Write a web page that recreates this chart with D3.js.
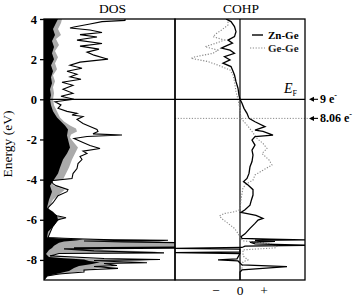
<!DOCTYPE html>
<html>
<head>
<meta charset="utf-8">
<script src="https://cdn.jsdelivr.net/npm/d3@7"></script>
<style>
  body { margin: 0; background: #fff; }
  svg text { font-family: "Liberation Serif", "DejaVu Serif", serif; }
</style>
</head>
<body>
<figure id="chart" style="margin:0"></figure>
<script>
// energy axis ticks
const energyTicks = [4, 2, 0, -2, -4, -6, -8];

// total DOS (black line)
const totalE = [4.0, 3.93, 3.87, 3.75, 3.6, 3.55, 3.45, 3.33, 3.22, 3.1, 2.95, 2.78, 2.65, 2.5, 2.35, 2.2, 2.0, 1.85, 1.7, 1.55, 1.4, 1.25, 1.12, 1.0, 0.85, 0.7, 0.5, 0.3, 0.15, 0.0,
  -0.12, -0.28, -0.45, -0.6, -0.7, -0.78, -0.86, -1.0, -1.2, -1.35, -1.5, -1.6, -1.72, -1.78, -1.85, -1.95, -2.15, -2.3, -2.45, -2.58, -2.7, -2.85, -3.0, -3.2, -3.45, -3.7, -3.95,
  -4.05, -4.2, -4.3, -4.5, -4.6, -4.8, -5.15, -5.4, -5.6, -5.8, -5.9, -6.0, -6.3, -6.65, -6.88,
  -6.92, -6.96, -7.0, -7.02, -7.04, -7.06, -7.1, -7.14, -7.36, -7.39, -7.42, -7.45, -7.55, -7.62, -7.65, -7.68, -7.8, -7.93, -7.98, -8.03, -8.1, -8.14, -8.18, -8.28, -8.33, -8.42, -8.5, -8.6, -8.7, -8.8, -9.0];
const totalDos = [8.1, 8.1, 5.8, 4.6, 3.0, 2.6, 4.6, 5.8, 3.6, 5.3, 3.3, 5.8, 3.6, 5.5, 4.3, 5.0, 6.4, 3.6, 2.6, 3.8, 2.3, 3.3, 2.6, 3.7, 1.8, 2.9, 1.9, 2.9, 1.7, 3.0,
  1.1, 1.7, 1.4, 2.3, 3.3, 2.8, 3.9, 3.3, 3.9, 4.6, 5.3, 5.4, 4.9, 7.8, 4.3, 3.0, 3.9, 4.6, 5.6, 3.9, 4.3, 3.6, 3.8, 3.4, 3.3, 2.9, 2.8,
  0.7, 0.9, 1.2, 2.4, 2.3, 1.4, 0.9, 0.4, 0.3, 1.3, 2.2, 1.4, 0.9, 0.6, 0.4,
  2.0, 4.0, 7.0, 12.4, 11.5, 4.0, 8.0, 13.5, 13.5, 3.0, 13.5, 2.0, 5.0, 10.0, 12.0, 1.5, 0.6, 6.0, 11.6, 5.0, 8.0, 10.3, 6.0, 7.3, 5.0, 7.4, 4.0, 4.0, 1.5, 0.3, 0.0];

// partial DOS (gray fill)
const grayE = [4.0, 3.8, 3.5, 3.2, 3.0, 2.7, 2.4, 2.1, 1.8, 1.5, 1.2, 0.9, 0.6, 0.3, 0.0, -0.3, -0.6, -0.9, -1.1, -1.3, -1.45, -1.6, -1.75, -1.9, -2.1, -2.4, -2.7, -3.0, -3.4, -3.7, -4.0,
  -4.1, -4.3, -4.5, -4.7, -5.0, -5.4, -5.7, -5.9, -6.1, -6.4, -6.8, -6.88,
  -6.93, -6.97, -7.0, -7.03, -7.06, -7.1, -7.14, -7.36, -7.39, -7.5, -7.58, -7.62, -7.7, -7.85, -7.93, -7.98, -8.05, -8.12, -8.2, -8.3, -8.45, -8.55, -8.7, -8.8, -9.0];
const grayDos = [1.8, 1.7, 1.4, 1.7, 1.2, 1.5, 1.1, 1.4, 1.1, 1.3, 0.9, 1.1, 0.9, 1.0, 0.9, 1.0, 1.3, 1.6, 2.0, 2.6, 3.2, 3.3, 2.7, 2.6, 2.9, 3.4, 3.1, 2.8, 2.5, 2.2, 1.9,
  0.6, 1.0, 2.1, 1.6, 0.9, 0.5, 0.6, 1.9, 1.3, 0.8, 0.4, 0.6,
  3.0, 6.0, 10.0, 12.0, 6.0, 10.0, 13.5, 13.5, 5.0, 6.0, 11.0, 11.5, 1.0, 0.8, 4.0, 9.0, 10.6, 8.0, 7.0, 6.0, 5.0, 4.0, 1.8, 0.4, 0.0];

// partial DOS (black fill)
const blackE = [4.0, 3.8, 3.5, 3.2, 2.9, 2.6, 2.3, 2.0, 1.7, 1.4, 1.1, 0.8, 0.5, 0.2, 0.0, -0.3, -0.6, -0.9, -1.1, -1.3, -1.5, -1.8, -2.0, -2.4, -2.7, -3.0, -3.4, -3.7, -4.0,
  -4.3, -4.6, -5.0, -5.4, -5.6, -5.8, -6.0, -6.3, -6.6, -6.88,
  -6.93, -6.98, -7.03, -7.08, -7.15, -7.3, -7.4, -7.5, -7.7, -7.85, -7.92, -7.98, -8.05, -8.12, -8.2, -8.3, -8.4, -8.55, -8.7, -8.8, -9.0];
const blackDos = [1.4, 1.2, 0.9, 1.1, 0.8, 1.0, 0.8, 1.0, 0.7, 0.9, 0.7, 0.8, 0.6, 0.7, 0.6, 0.7, 0.9, 1.3, 1.7, 2.1, 2.4, 2.3, 2.4, 2.6, 2.3, 1.9, 1.6, 1.4, 1.0,
  0.6, 0.8, 0.5, 0.3, 0.9, 1.3, 1.4, 1.0, 0.4, 0.3,
  1.5, 3.9, 3.2, 2.0, 1.5, 1.0, 0.8, 0.5, 0.2, 0.5, 2.0, 4.0, 4.5, 5.6, 4.8, 3.5, 3.0, 2.5, 1.2, 0.3, 0.0];

// COHP Zn-Ge (solid)
const znGeE = [4.0, 3.87, 3.62, 3.37, 3.12, 2.95, 2.8, 2.62, 2.55, 2.45, 2.29, 2.12, 1.96, 1.8, 1.63, 1.46, 1.21, 0.88, 0.55, 0.2, 0.0,
  -0.2, -0.45, -0.7, -0.95, -1.12, -1.36, -1.53, -1.6, -1.78, -1.86, -2.03, -2.28, -2.53, -2.78, -3.1, -3.36, -3.69, -3.94, -4.1,
  -4.27, -4.5, -4.77, -5.0, -5.27, -5.5, -5.63, -5.68, -5.78, -5.93, -6.02, -6.18, -6.43, -6.7, -6.84,
  -6.93, -6.97, -7.0, -7.03, -7.08, -7.12, -7.2, -7.27, -7.31, -7.38, -7.42, -7.46, -7.6, -7.64, -7.68, -7.95, -8.0, -8.05, -8.25, -8.33, -8.5, -8.6, -9.0];
const znGe = [-1.4, -0.9, -0.55, -0.4, -0.55, -1.2, -0.75, -1.55, -1.85, -1.0, -0.55, -1.55, -1.0, -1.7, -0.9, -0.75, -0.55, -0.4, -0.2, -0.1, 0.0,
  0.2, 0.4, 0.7, 0.9, 1.5, 2.5, 1.5, 2.3, 3.3, 1.5, 1.2, 1.5, 1.2, 1.3, 1.2, 1.0, 0.9, 0.7, 0.35,
  0.8, 1.3, 1.3, 1.15, 1.0, 0.5, 0.1, 0.6, 1.6, 2.3, 1.8, 1.5, 1.0, 0.5, 0.1,
  0.2, 3.0, 6.5, 1.5, 3.5, 1.0, 1.5, 6.5, 0.5, 0.2, -6.5, 0.0, 0.0, -6.5, 0.0, -0.3, -2.2, -0.2, 0.2, 4.7, 0.2, 0.0, 0.0];

// COHP Ge-Ge (dotted)
const geGeE = [4.0, 3.7, 3.45, 3.28, 3.12, 2.95, 2.78, 2.62, 2.45, 2.29, 2.12, 2.04, 1.88, 1.7, 1.46, 1.21, 0.88, 0.38, 0.0,
  -0.5, -0.95, -1.28, -1.6, -1.95, -2.2, -2.45, -2.7, -3.02, -3.27, -3.53, -3.77, -4.02, -4.2, -4.4, -5.0, -5.5, -5.6, -5.68, -5.8, -5.93, -6.18, -6.43, -6.68, -6.85,
  -7.05, -7.1, -7.2, -7.3, -7.4, -7.5, -7.8, -8.0, -8.1, -8.4, -8.6, -9.0];
const geGe = [-1.2, -1.2, -1.85, -2.35, -2.7, -1.55, -2.5, -3.5, -2.2, -2.7, -4.5, -4.9, -3.2, -2.2, -1.0, -0.7, -0.55, -0.4, -0.2,
  0.0, 0.1, 0.7, 1.2, 1.7, 2.3, 2.7, 2.2, 2.9, 3.2, 2.3, 1.5, 1.3, 0.7, 0.3, 0.1, 0.0, -0.55, -1.5, -2.05, -1.85, -1.2, -0.55, -0.2, 0.0,
  0.3, 1.5, 3.0, 3.7, 3.5, 0.3, 0.3, 0.8, 0.3, 0.2, 0.0, 0.0];

// COHP bottom labels
const cohpTickValues = [-2.4, 0, 2.4];
const cohpTickLabels = ["\u2212", "0", "+"];

// markers on the right
const fermiE = 0;
const levelE = -0.95;
const electronLabels = ["9 e", "8.06 e"];
const electronE = [fermiE, levelE];

const width = 359, height = 298;
const plotTop = 19, plotBottom = 280, plotLeft = 44, plotMid = 175, plotRight = 305;

const svg = d3.select("figure#chart")
  .append("svg")
  .attr("width", width)
  .attr("height", height);

const y = d3.scaleLinear().domain([-9, 4]).range([plotBottom, plotTop]);
const xDos = d3.scaleLinear().domain([0, 13.1]).range([plotLeft, plotMid]);
const xCohp = d3.scaleLinear().domain([-6.5, 6.5]).range([plotMid, plotRight]);

const zip = (es, vs) => es.map((e, i) => ({ e: e, v: vs[i] }));

svg.append("clipPath").attr("id", "clipDos")
  .append("rect").attr("x", plotLeft).attr("y", plotTop).attr("width", plotMid - plotLeft).attr("height", plotBottom - plotTop);
svg.append("clipPath").attr("id", "clipCohp")
  .append("rect").attr("x", plotMid).attr("y", plotTop).attr("width", plotRight - plotMid).attr("height", plotBottom - plotTop);

// DOS panel
const dos = svg.append("g").attr("clip-path", "url(#clipDos)");
const areaDos = d3.area()
  .y(d => y(d.e))
  .x0(xDos(0))
  .x1(d => xDos(d.v));

dos.append("path")
  .datum(zip(grayE, grayDos))
  .attr("d", areaDos)
  .attr("fill", "#aaaaaa");

dos.append("path")
  .datum(zip(blackE, blackDos))
  .attr("d", areaDos)
  .attr("fill", "#000");

dos.append("path")
  .datum(zip(totalE, totalDos))
  .attr("d", d3.line().x(d => xDos(d.v)).y(d => y(d.e)))
  .attr("fill", "none")
  .attr("stroke", "#000")
  .attr("stroke-width", 1.1);

// COHP panel
const cohp = svg.append("g").attr("clip-path", "url(#clipCohp)");
const lineCohp = d3.line().x(d => xCohp(d.v)).y(d => y(d.e));

cohp.append("line")
  .attr("x1", xCohp(0)).attr("x2", xCohp(0))
  .attr("y1", plotTop).attr("y2", plotBottom)
  .attr("stroke", "#000").attr("stroke-width", 1.2);

cohp.append("path")
  .datum(zip(geGeE, geGe))
  .attr("d", lineCohp)
  .attr("fill", "none")
  .attr("stroke", "#888")
  .attr("stroke-width", 1.1)
  .attr("stroke-dasharray", "1.2,1.6");

cohp.append("path")
  .datum(zip(znGeE, znGe))
  .attr("d", lineCohp)
  .attr("fill", "none")
  .attr("stroke", "#000")
  .attr("stroke-width", 1.3);

// 8.06 e- level (dotted) and Fermi level
svg.append("line")
  .attr("x1", plotMid).attr("x2", plotRight + 3)
  .attr("y1", y(levelE)).attr("y2", y(levelE))
  .attr("stroke", "#888").attr("stroke-width", 1)
  .attr("stroke-dasharray", "1.2,1.6");

svg.append("line")
  .attr("x1", plotLeft).attr("x2", plotRight)
  .attr("y1", y(fermiE)).attr("y2", y(fermiE))
  .attr("stroke", "#000").attr("stroke-width", 1.3);

// panel frames
svg.append("rect")
  .attr("x", plotLeft).attr("y", plotTop).attr("width", plotMid - plotLeft).attr("height", plotBottom - plotTop)
  .attr("fill", "none").attr("stroke", "#000").attr("stroke-width", 1.3);
svg.append("rect")
  .attr("x", plotMid).attr("y", plotTop).attr("width", plotRight - plotMid).attr("height", plotBottom - plotTop)
  .attr("fill", "none").attr("stroke", "#000").attr("stroke-width", 1.3);

// energy axis
const yAxis = svg.append("g")
  .attr("transform", "translate(" + plotLeft + ",0)")
  .call(d3.axisLeft(y).tickValues(energyTicks).tickSize(4).tickPadding(3).tickFormat(d => String(d)));
yAxis.select(".domain").remove();
yAxis.selectAll("line").attr("stroke-width", 1.3);
yAxis.selectAll("text")
  .style("font-family", "Liberation Serif")
  .style("font-size", "12.5px")
  .style("font-weight", "bold")
  .attr("fill", "#000");

svg.append("text")
  .attr("transform", "translate(12," + 144 + ") rotate(-90)")
  .attr("text-anchor", "middle")
  .style("font-size", "13.5px")
  .text("Energy (eV)");

// titles
svg.append("text")
  .attr("x", (plotLeft + plotMid) / 2 + 3).attr("y", 13)
  .attr("text-anchor", "middle")
  .style("font-size", "13.5px")
  .text("DOS");
svg.append("text")
  .attr("x", xCohp(0) + 1).attr("y", 13)
  .attr("text-anchor", "middle")
  .style("font-size", "13.5px")
  .text("COHP");

// COHP sign labels
svg.selectAll("text.sign")
  .data(cohpTickValues)
  .enter()
  .append("text")
  .attr("class", "sign")
  .attr("x", d => xCohp(d))
  .attr("y", 295)
  .attr("text-anchor", "middle")
  .style("font-size", "13.5px")
  .text((d, i) => cohpTickLabels[i]);

// legend
const legend = svg.append("g");
legend.append("line")
  .attr("x1", 252).attr("x2", 263).attr("y1", 35).attr("y2", 35)
  .attr("stroke", "#000").attr("stroke-width", 1.4);
legend.append("line")
  .attr("x1", 250).attr("x2", 265).attr("y1", 48).attr("y2", 48)
  .attr("stroke", "#888").attr("stroke-width", 1.1).attr("stroke-dasharray", "1.2,1.6");
legend.append("text").attr("x", 268).attr("y", 39).style("font-size", "11px").style("font-weight", "bold").text("Zn-Ge");
legend.append("text").attr("x", 268).attr("y", 52).style("font-size", "11px").style("font-weight", "bold").attr("fill", "#222").text("Ge-Ge");

// E_F label
const ef = svg.append("text").attr("x", 284).attr("y", y(fermiE) - 6).style("font-size", "14px");
ef.append("tspan").style("font-style", "italic").text("E");
ef.append("tspan").attr("dy", 3).style("font-size", "8px").text("F");

// electron count arrows
const marks = svg.selectAll("g.mark")
  .data(electronE)
  .enter()
  .append("g")
  .attr("class", "mark")
  .attr("transform", d => "translate(0," + y(d) + ")");
marks.append("line")
  .attr("x1", 311).attr("x2", 318).attr("y1", 0).attr("y2", 0)
  .attr("stroke", "#000").attr("stroke-width", 1.1);
marks.append("path")
  .attr("d", "M309,0 L314,-2.5 L314,2.5 Z")
  .attr("fill", "#000");
const lbl = marks.append("text")
  .attr("x", 320).attr("y", 4)
  .style("font-size", "12px")
  .style("font-weight", "bold");
lbl.append("tspan").text((d, i) => electronLabels[i]);
lbl.append("tspan").attr("dy", -5).style("font-size", "8px").text("-");
</script>
</body>
</html>
